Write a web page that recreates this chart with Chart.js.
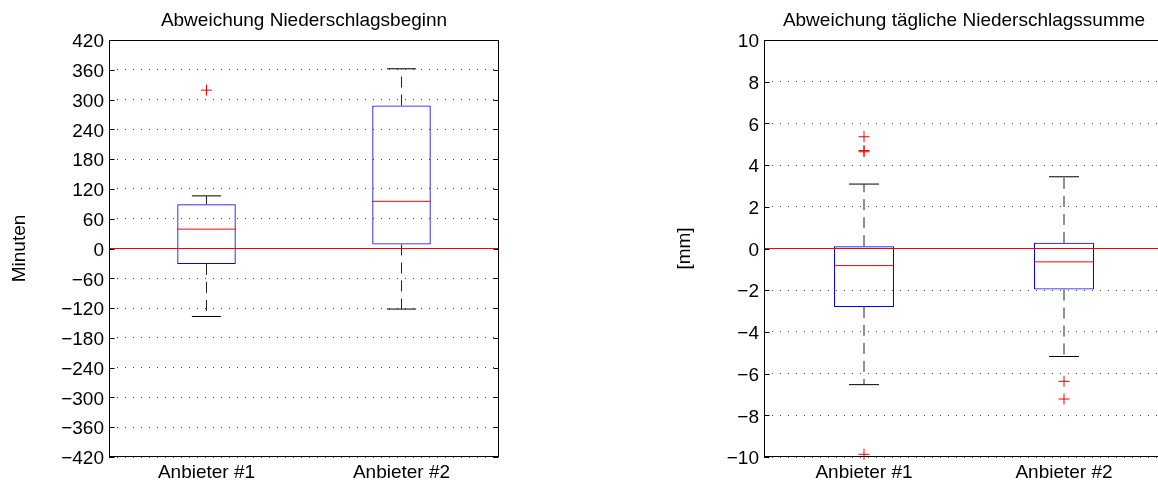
<!DOCTYPE html>
<html>
<head>
<meta charset="utf-8">
<script src="https://cdn.jsdelivr.net/npm/chart.js@4.4.0/dist/chart.umd.min.js"></script>
<style>
  body { margin: 0; width: 1158px; height: 484px; overflow: hidden; background: #fff; position: relative; }
  canvas { position: absolute; top: 0; }
</style>
</head>
<body>
<canvas id="beginnChart" width="580" height="484" style="left:0px"></canvas>
<canvas id="summeChart" width="600" height="484" style="left:580px"></canvas>
<script>
// categories on the x axis
var categories = ['Anbieter #1', 'Anbieter #2'];

// Abweichung Niederschlagsbeginn (Minuten)
var beginnLow = [-137, -122];
var beginnQ1 = [-31, 8];
var beginnMedian = [39, 95];
var beginnQ3 = [89, 288];
var beginnHigh = [106, 362];
var beginnOutliers = [[319], []];
var beginnTicks = [-420, -360, -300, -240, -180, -120, -60, 0, 60, 120, 180, 240, 300, 360, 420];

// Abweichung tägliche Niederschlagssumme (mm)
var summeLow = [-6.53, -5.18];
var summeQ1 = [-2.8, -1.97];
var summeMedian = [-0.82, -0.64];
var summeQ3 = [0.11, 0.27];
var summeHigh = [3.09, 3.44];
var summeOutliers = [[5.36, 4.70, 4.64, -9.87], [-6.37, -7.22]];
var summeTicks = [-10, -8, -6, -4, -2, 0, 2, 4, 6, 8, 10];

Chart.defaults.font.family = "'Liberation Sans', Arial, Helvetica, sans-serif";
Chart.defaults.color = '#000';

// frame round the plot area and inward tick marks (like matlab)
var framePlugin = {
  id: 'frame',
  afterDatasetsDraw: function(chart) {
    var ctx = chart.ctx;
    var a = chart.chartArea;
    var yScale = chart.scales.y;
    var l = Math.round(a.left) + 0.5, r = Math.round(a.right) - 0.5;
    var t = Math.round(a.top) + 0.5, b = Math.round(a.bottom) - 0.5;
    ctx.save();
    ctx.strokeStyle = '#000';
    ctx.lineWidth = 1;
    ctx.strokeRect(l, t, r - l, b - t);
    ctx.beginPath();
    yScale.ticks.forEach(function(tk) {
      var y = Math.round(yScale.getPixelForValue(tk.value)) + 0.5;
      ctx.moveTo(l, y); ctx.lineTo(l + 5, y);
      ctx.moveTo(r, y); ctx.lineTo(r - 5, y);
    });
    ctx.stroke();
    ctx.restore();
  }
};

function minusLabel(v) {
  return v < 0 ? '\u2212' + Math.abs(v) : String(v);
}

function makeBoxChart(id, cfg) {
  var whiskers = [];
  var caps = [];
  var medians = [];
  var boxes = [];
  var outliers = [];
  for (var i = 0; i < categories.length; i++) {
    var x = i + 1;
    boxes.push({x: x, y: [cfg.q1[i], cfg.q3[i]]});
    medians.push({x: x, y: cfg.median[i]});
    caps.push({x: x, y: cfg.high[i]});
    caps.push({x: x, y: cfg.low[i]});
    whiskers.push({x: x, y: cfg.q3[i]}, {x: x, y: cfg.high[i]}, {x: x, y: null});
    whiskers.push({x: x, y: cfg.q1[i]}, {x: x, y: cfg.low[i]}, {x: x, y: null});
    cfg.outliers[i].forEach(function(v) { outliers.push({x: x, y: v}); });
  }

  return new Chart(document.getElementById(id), {
    type: 'bar',
    data: {
      datasets: [{
        type: 'line',
        label: 'Ausreisser',
        data: outliers,
        showLine: false,
        pointStyle: 'cross',
        pointRadius: 5.5,
        pointBorderColor: '#ff0000',
        pointBorderWidth: 1,
        clip: false,
        order: 0
      }, {
        type: 'line',
        label: 'Null',
        data: [{x: 0.5, y: 0}, {x: 2.5, y: 0}],
        borderColor: '#ff0000',
        borderWidth: 1.2,
        pointRadius: 0,
        order: 1
      }, {
        type: 'line',
        label: 'Median',
        data: medians,
        showLine: false,
        pointStyle: 'line',
        pointRadius: cfg.boxHalf,
        pointBorderColor: '#ff0000',
        pointBorderWidth: 1,
        order: 2
      }, {
        type: 'bar',
        label: 'Box',
        data: boxes,
        backgroundColor: 'rgba(0,0,0,0)',
        borderColor: '#0000ff',
        borderWidth: 1,
        borderSkipped: false,
        barPercentage: 0.3,
        categoryPercentage: 1,
        order: 3
      }, {
        type: 'line',
        label: 'Whisker',
        data: whiskers,
        borderColor: '#222',
        borderWidth: 1,
        borderDash: [11, 7],
        pointRadius: 0,
        spanGaps: false,
        order: 4
      }, {
        type: 'line',
        label: 'Kappe',
        data: caps,
        showLine: false,
        pointStyle: 'line',
        pointRadius: cfg.boxHalf / 2,
        pointBorderColor: '#000',
        pointBorderWidth: 1,
        order: 4
      }]
    },
    options: {
      responsive: false,
      animation: false,
      layout: {
        autoPadding: false,
        padding: { left: cfg.padLeft, right: cfg.padRight, top: 0, bottom: 0 }
      },
      plugins: {
        legend: { display: false },
        tooltip: { enabled: false },
        title: {
          display: true,
          text: cfg.title,
          fullSize: false,
          font: { size: 19, weight: 'normal' },
          color: '#000',
          padding: { top: 9.8, bottom: 7.4 }
        }
      },
      scales: {
        x: {
          type: 'linear',
          min: 0.5,
          max: 2.5,
          offset: false,
          grid: { display: false, drawTicks: false, offset: false },
          border: { display: false },
          afterBuildTicks: function(scale) {
            scale.ticks = categories.map(function(c, i) { return {value: i + 1}; });
          },
          afterFit: function(scale) { scale.height = 27; },
          ticks: {
            padding: 4,
            font: { size: 19 },
            callback: function(v) { return categories[Math.round(v) - 1]; }
          }
        },
        y: {
          min: cfg.ticks[0],
          max: cfg.ticks[cfg.ticks.length - 1],
          grid: { color: 'rgba(0,0,0,0.75)', lineWidth: 1, drawTicks: false },
          border: { display: false, dash: [1, 7] },
          afterBuildTicks: function(scale) {
            scale.ticks = cfg.ticks.map(function(v) { return {value: v}; });
          },
          afterFit: function(scale) { scale.width = cfg.axisWidth; },
          ticks: {
            padding: 5,
            labelOffset: 2,
            font: { size: 19 },
            callback: minusLabel
          },
          title: {
            display: true,
            text: cfg.yTitle,
            font: { size: 19 },
            padding: { top: 8.7, bottom: 0 }
          }
        }
      }
    },
    plugins: [framePlugin]
  });
}

var beginnChart = makeBoxChart('beginnChart', {
  title: 'Abweichung Niederschlagsbeginn',
  yTitle: 'Minuten',
  low: beginnLow, q1: beginnQ1, median: beginnMedian, q3: beginnQ3, high: beginnHigh,
  outliers: beginnOutliers,
  ticks: beginnTicks,
  padLeft: 0, padRight: 81, axisWidth: 109, boxHalf: 29.25
});

var summeChart = makeBoxChart('summeChart', {
  title: 'Abweichung tägliche Niederschlagssumme',
  yTitle: '[mm]',
  low: summeLow, q1: summeQ1, median: summeMedian, q3: summeQ3, high: summeHigh,
  outliers: summeOutliers,
  ticks: summeTicks,
  padLeft: 85, padRight: 16, axisWidth: 99, boxHalf: 30
});
</script>
</body>
</html>
